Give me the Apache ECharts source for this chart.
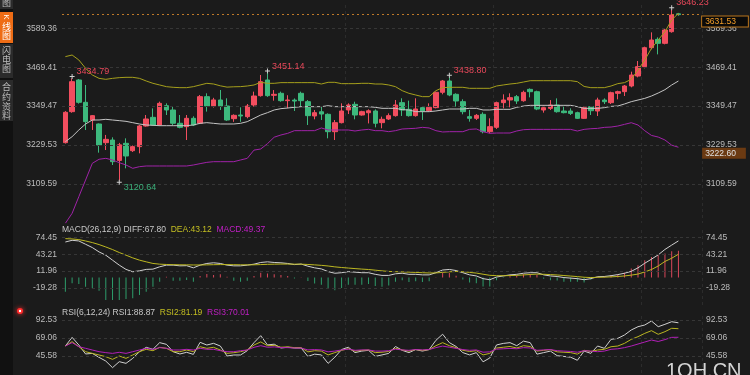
<!DOCTYPE html>
<html><head><meta charset="utf-8">
<script src="https://cdn.jsdelivr.net/npm/echarts@6/dist/echarts.min.js"></script>
<style>html,body{margin:0;padding:0;background:#1b1b1b;}#c{width:750px;height:375px;}</style>
</head><body><div id="c"></div>
<script>
// [open, close, low, high]
const candles = [
[3236.7,3330.3,3234,3334],[3332.3,3424.8,3329,3434.79],[3430.0,3361.1,3357,3433],[3361.1,3301.5,3275.8,3414.5],
[3306.6,3320.0,3275.8,3322],[3294.3,3229.5,3205.9,3296],[3236.7,3247.0,3214,3260.5],[3244.9,3178.1,3167.8,3253.2],
[3182.0,3230.0,3120.64,3236],[3234.7,3195.6,3157.5,3250],[3212.0,3224.5,3208,3228],[3224.5,3288.1,3203.8,3291.2],
[3288.0,3309.7,3286,3322],[3314.8,3291.2,3289,3342.5],[3291.2,3358.0,3288,3363.2],[3350.8,3337.5,3322,3358],
[3337.5,3296.5,3291,3348],[3296.5,3284.0,3281,3322],[3286.1,3311.8,3244.9,3322],[3311.8,3291.2,3288,3318],
[3296.5,3378.6,3294,3383.7],[3378.6,3349.8,3332.5,3388.9],[3350.0,3368.5,3345,3375],[3368.3,3349.8,3337.5,3399.1],
[3349.8,3306.6,3304,3373.5],[3310.7,3321.0,3301,3324],[3322.0,3319.0,3301,3345.7],[3316.9,3349.8,3311.8,3355.9],
[3352.9,3380.6,3347.8,3394],[3381.7,3424.8,3378.6,3445.4],[3430.0,3381.7,3378,3451.14],[3382.7,3385.8,3366.2,3399],
[3388.9,3366.2,3363,3394],[3366.2,3368.3,3342.8,3383],[3368.0,3365.0,3334.4,3373],[3388.9,3366.2,3347.8,3394],
[3363.2,3320.0,3291.2,3368],[3319.0,3329.2,3308.7,3337.5],[3332.0,3325.0,3306.6,3347.8],[3324.1,3270.6,3250.1,3327],
[3270.6,3298.4,3244.9,3306.6],[3298.4,3334.4,3296,3358],[3337.5,3352.9,3325,3358],[3354.9,3322.0,3308.7,3363],
[3322.0,3332.3,3320,3335],[3329.0,3335.0,3296,3339.5],[3334.4,3296.5,3284,3339.5],[3298.4,3308.7,3281,3317],
[3309.7,3320.0,3306.6,3327],[3320.0,3352.9,3317,3368.3],[3360.1,3337.5,3319,3373.5],[3339.5,3320.0,3317,3366.2],
[3320.0,3340.6,3317,3373.5],[3344.7,3334.4,3306.6,3349.8],[3335.4,3345.7,3332.3,3358],[3344.7,3392.0,3342.6,3394],
[3392.0,3426.9,3385.8,3430],[3426.9,3383.7,3380,3438.80],[3385.8,3365.2,3347.8,3388.9],[3363.2,3332.3,3324.1,3370.4],
[3317.0,3311.8,3301.5,3337.5],[3311.8,3321.0,3306.6,3325],[3324.1,3270.6,3265.5,3330.3],[3270.6,3286.1,3265.5,3311.8],
[3284.0,3360.1,3279,3363.2],[3360.1,3368.3,3342.6,3385.8],[3368.3,3375.5,3345.7,3388.9],[3378.6,3365.2,3356,3383.7],
[3366.1,3391.8,3363,3397],[3401.1,3393.9,3376.4,3404],[3393.9,3340.4,3337,3397],[3337.4,3344.6,3329.2,3352.8],
[3342.5,3352.8,3337.4,3368],[3352.8,3332.2,3329.2,3373.3],[3334.3,3329.2,3327,3347.7],[3334.3,3327.0,3322,3342.5],
[3329.2,3311.7,3309.6,3332.2],[3311.7,3344.6,3309.6,3347.7],[3347.7,3335.3,3322,3349.7],[3334.3,3368.2,3318.9,3375.4],
[3368.2,3363.0,3355.9,3373.3],[3360.0,3390.8,3355.9,3393.9],[3388.8,3394.0,3370.3,3397],[3394.0,3411.4,3380.6,3414.5],
[3411.4,3445.3,3407.3,3455.6],[3442.2,3471.0,3438.1,3488.5],[3471.0,3529.6,3465.9,3532.7],[3529.6,3553.2,3524.5,3576.9],
[3555.3,3543.0,3509,3561.5],[3543.0,3584.1,3539.9,3587.2],[3578.9,3630.3,3575.8,3646.23],[3634.0,3631.53,3628,3635.5]
];
const bollUpper = [3502,3507,3491.7,3466,3445.4,3435,3432,3435,3437.2,3438.2,3438.2,3435,3426.9,3419.7,3414.6,3409.4,3407.4,3406.3,3406.3,3409.4,3414.6,3419.7,3417.6,
3412,3408,3409,3409.5,3411.4,3414.6,3422.8,3419.7,3419.7,3421.8,3421.8,3421.8,3421.8,3421.8,3421.8,3417.6,3422.8,3422.8,3418.7,3418.7,3418.7,3419.7,3419.7,
3417.6,3417.6,3414.6,3409.4,3397,3388.9,3383.7,3378.6,3378.6,3397,3406.3,3407.4,3407.4,3407.4,3404.3,3404.3,3404.3,3404.3,3411.4,3414.6,3417.6,3419.7,
3423.7,3427.8,3427.8,3427.8,3427.8,3427.8,3427.8,3427.8,3424.8,3410,3406.3,3406.3,3406.3,3411.4,3418.7,3421.8,3432,3460.7,3491.6,3527.5,3553.2,3578.9,3615,3635.5];
const bollMid = [3239.8,3255.2,3275.8,3294.3,3306.6,3306.6,3308.7,3306.6,3304.6,3302.5,3298.4,3294.3,3291.2,3290.2,3289.1,3289.1,3289.1,3289.1,3289.1,3291.2,3296.3,3298.4,3296.3,
3294.3,3294.3,3294.3,3296.3,3301.5,3311.8,3322,3329.2,3337.5,3341.6,3343.6,3345.7,3347.7,3347.7,3347.7,3347.7,3350.8,3347.7,3347.7,3347.7,3347.7,3347.7,3347.7,
3345.7,3342.6,3342.6,3342.6,3338.5,3337.5,3332.3,3332.3,3332.3,3334.4,3337.5,3340.5,3340.5,3340.5,3342.6,3342.6,3337.5,3337.5,3339.5,3339.5,3339.5,3345.7,
3349.7,3351.8,3351.8,3351.8,3351.8,3351.8,3351.8,3351.8,3347.7,3342.5,3342.5,3342.5,3344.6,3348.7,3349.7,3356,3363.1,3368.2,3373.3,3380.6,3389.8,3400.1,3414.5,3426.8];
const bollLower = [2988,3018.8,3070.2,3121.5,3173,3185.5,3188.4,3183.3,3175,3167.8,3157.6,3162.7,3164.8,3164.8,3164.8,3164.8,3164.8,3164.8,3164.8,3167.8,3172,3176,3178.1,
3178.1,3178.1,3178.1,3183.3,3188.4,3213.8,3217.2,3233.7,3253.6,3260.4,3265.5,3273.7,3273.7,3273.7,3273.7,3282,3275.8,3275.8,3275.8,3275.8,3272.7,3275.8,3277.8,
3273.7,3273.7,3270.6,3273.7,3278.9,3280,3281,3284,3282,3273.7,3269.6,3270.6,3270.6,3270.6,3277.8,3278.9,3270.6,3265.5,3266.5,3266.5,3266.5,3272.7,
3276.7,3277.7,3277.7,3277.7,3277.7,3277.7,3277.7,3277.7,3272.6,3277.7,3279.7,3280.8,3283.9,3284.9,3288,3293.2,3298.3,3291.1,3273.6,3259,3254,3245,3229,3222.6];
const macdDiff = [65.8,68.9,67.7,61.6,55.5,47.4,41.4,32.2,23,15.1,10.7,12.5,15.1,15.6,19.9,23,23,21.7,22,18,23,26.1,27.3,26.1,23,21.7,21.7,23,24.8,27.9,29.1,27.9,27.3,26.1,
24,25,21,18,16,11,8,9,11,10,9,9,6,4,4,7,8,6,6,5,5,9,14,15,13,9,5,3,-2,-4,1,3,5,6,8,9,9,5,3,2,0,-1,-2,-4,-2,
1.5,2,3.5,5.5,8,11.5,18,26.5,34,42,52,60,67.80];
const macdDea = [72,71.4,70.2,67.7,64.7,61,56.6,51.8,46.3,41.4,36.4,32.2,29.1,26.1,24.8,24.2,23.8,23.6,23.5,23.3,23.3,23.5,23.8,24,24,23.8,23.6,23.5,23.6,24,24.5,24.8,25,25,
24.8,24.8,24.2,23.5,22.6,21.4,19.8,18.6,17.6,16.6,15.7,14.9,13.7,12.4,11.4,10.9,10.5,10,9.5,9,8.5,8.6,9.6,10.7,11.2,10.8,9.6,8.3,6.2,4.2,3.5,3.4,3.7,4.1,4.9,5.7,6.4,6.1,5.5,4.8,3.8,2.8,1.8,0.6,0,
0.5,0.8,1.3,2,3,4.5,6.5,10.4,14.9,21.4,29.8,35.7,43.12];
const macdHist = [-26,-10.7,-11.9,-16.8,-19.9,-24.2,-41.3,-41.3,-41.3,-39.5,-38.3,-32.2,-26,-16.8,-7.6,1.5,-5.8,-5.8,-4.6,-7.6,2.8,6.4,4.6,6,1.5,-5.8,-7.6,-5.8,2.8,8.8,7.6,6,4.6,2.8,
-1.6,0.4,-6.4,-11,-13.2,-20.8,-23.6,-19.2,-13.2,-13.2,-13.4,-11.8,-15.4,-16.8,-14.8,-7.8,-5,-8,-7,-8,-7,0.8,8.8,8.6,3.6,-3.6,-9.2,-10.6,-16.4,-16.4,-5,-0.8,2.6,3.8,6.2,6.6,5.2,-2.2,-5,-5.6,-7.6,-7.6,-7.6,-9.2,-4,
1.5,2.8,4.6,5.8,8.8,16.9,23,32.2,38.2,41.3,44.5,48.7,49.37];
const rsi1 = [58.6,69.9,59.9,48.2,49.0,43.8,39.0,30.4,38.2,36.0,42.5,51.2,56.9,54.3,63.0,60.8,51.2,48.2,50.4,47.7,63.4,59.9,62.1,58.6,45.6,46.9,46.9,52.5,63.0,72.1,
60,61,56,57,56,56,45,48,47,36,44,54,57,50,52,53,45,47,49,58,53,50,54,52,54,66,74,63,58,50,47,50,38,43,60,62,63,59,65,63,48,50,52,46,45,44,40,52,49,
58.6,55.6,67.3,68.6,73,79.5,83.8,86,91.2,83.8,86.9,90.3,88.87];
const rsi2 = [58.6,64.3,57.7,51.2,49.0,46.9,44.7,41.2,45.6,42.5,46.9,51.2,54.3,52.5,56.9,55.6,51.2,51.2,53.4,51.2,57.7,55.6,56.9,53.4,49.0,49.9,51.2,53.4,59.9,64,
59,59.5,57,57.5,56.5,56.5,51,52.5,52,47,50,53,55,52,53,53.5,50,50.5,51.5,55.5,53.5,52,54,53,54,59,63,59,56.5,53,51.5,52.5,47,49,56,57,58,56,59,58,52,53,54,51,50.5,50,48,53,51.5,
53.4,54.3,57.7,58.6,62.1,67.3,70.8,75.1,78.6,73.9,77.3,81.7,81.19];
const rsi3 = [58.6,63,57.7,55.6,53.4,51.2,50,49,50.4,49,51.2,53.4,55.6,54.3,56.5,55.6,53.4,53.4,54.3,53.4,55.6,54.3,54.3,52.5,51.2,51.2,52.5,53.4,56.9,59,
57,57.5,56.5,56.5,56,56,53.5,54,53.5,51,52,53.5,54.5,53,53.5,53.5,52,52,52.5,54.5,53.5,53,54,53.5,54,56.5,58.5,57,55.5,54,53,53.5,50.5,51,54.5,55,55.5,55,56.5,56,53,53.5,54,52.5,52,51.5,50.5,52.5,52,
51.2,52,54.3,55,56.5,58.6,61.2,63.8,66.4,64.5,67,69.9,70.01];
const priceTicks = [3109.59, 3229.53, 3349.47, 3469.41, 3589.36];
const macdTicks = [-19.28, 11.96, 43.21, 74.45];
const rsiTicks = [45.58, 69.06, 92.53];
const highMarks = [1, 30, 57, 90];
const lowMarks = [8];
const SLOTS = 95;
const categories = Array.from({length: SLOTS}, (_, i) => 'K' + (i + 1));
const dividers = [42, 64, 86];

const FONT = '"Liberation Sans", Arial, sans-serif';
const CJK = '"Noto Sans CJK SC", sans-serif';
const UP = '#f24e5f', DOWN = '#3db97d';
const CLEAR = 'rgba(0,0,0,0)';
const last = candles[candles.length - 1][1];
const lastLower = bollLower[bollLower.length - 1];
const f2 = v => Number(v).toFixed(2);

function tickLines(ticks) {
  const data = [];
  ticks.forEach(v => {
    data.push({ yAxis: v, label: { position: 'start', distance: 5, formatter: f2(v) } });
    data.push({ yAxis: v, label: { position: 'end', distance: 4, formatter: f2(v) }, lineStyle: { color: CLEAR } });
  });
  return data;
}
const tickLabelStyle = { show: true, color: '#bcbcbc', fontSize: 8.5, fontFamily: FONT, opacity: 1 };
const gridLine = { color: '#363636', type: [3, 3], width: 1 };

const xAx = g => ({
  type: 'category', gridIndex: g, data: categories, boundaryGap: true,
  axisLine: { show: false }, axisTick: { show: false }, axisLabel: { show: false },
  splitLine: { show: true, interval: (i) => dividers.includes(i), lineStyle: { color: '#2c2c2c', type: [3, 3] } }
});
const yAx = (g, min, max) => ({
  type: 'value', gridIndex: g, min, max, scale: true,
  axisLine: { show: false }, axisTick: { show: false }, axisLabel: { show: false }, splitLine: { show: false }
});

const plus = 'path://M2,0H3V2H5V3H3V5H2V3H0V2H2Z';
const markPts = [
  ...highMarks.map(i => ({ coord: [i, candles[i][3]], value: candles[i][3],
    label: { show: true, position: 'right', distance: 2, offset: [0, -5], color: '#e8485a', fontSize: 9, fontFamily: FONT, formatter: f2(candles[i][3]) } })),
  ...lowMarks.map(i => ({ coord: [i, candles[i][2]], value: candles[i][2], symbolOffset: [0, 2],
    label: { show: true, position: 'right', distance: 2, offset: [0, 5], color: '#3bb07a', fontSize: 9, fontFamily: FONT, formatter: f2(candles[i][2]) } })),
  { coord: [SLOTS - 1, lastLower], symbol: 'rect', symbolSize: 1, symbolOffset: [0, 0], itemStyle: { color: CLEAR },
    label: { show: true, position: 'right', distance: 3, offset: [0, 6], formatter: f2(lastLower), color: '#e0e0e0', fontSize: 8.5, fontFamily: FONT, opacity: 1,
      backgroundColor: '#6b3a12', padding: [1, 10, 1, 3] } },
  { coord: [SLOTS - 1, last], symbol: 'rect', symbolSize: 1, symbolOffset: [0, 0], itemStyle: { color: CLEAR },
    label: { show: true, position: 'right', distance: 3, offset: [0, 7], formatter: f2(last), color: '#f5a02a', fontSize: 8.5, fontFamily: FONT, opacity: 1,
      backgroundColor: '#0a0a0a', borderColor: '#b8741c', borderWidth: 1, padding: [1, 12, 0, 3] } }
];

const lineS = (name, data, color, xi, yi, extra) => Object.assign({
  name, type: 'line', data, xAxisIndex: xi, yAxisIndex: yi, symbol: 'none', silent: true,
  lineStyle: { color, width: 1 }, z: 3
}, extra || {});

const LEG = '8.5px ' + FONT;
const option = {
  backgroundColor: '#1b1b1b',
  animation: false,
  grid: [
    { left: 62, right: 48, top: 5, height: 218 },
    { left: 62, right: 48, top: 230, height: 78 },
    { left: 62, right: 48, top: 316, height: 59 }
  ],
  xAxis: [xAx(0), xAx(1), xAx(2)],
  yAxis: [yAx(0, 2989.0, 3661.2), yAx(1, -56.25, 87.95), yAx(2, 20.81, 97.75)],
  series: [
    {
      type: 'candlestick', data: candles, xAxisIndex: 0, yAxisIndex: 0, barWidth: 5, silent: true,
      itemStyle: { color: UP, color0: DOWN, borderColor: UP, borderColor0: DOWN, borderWidth: 1 },
      markLine: {
        silent: true, symbol: 'none', lineStyle: gridLine, label: tickLabelStyle,
        data: [...tickLines(priceTicks),
          { yAxis: last, lineStyle: { color: '#c07a28', type: [2, 3], width: 1 }, label: { show: false } }]
      },
      markPoint: { symbol: plus, symbolSize: 5, symbolOffset: [0, -2], silent: true, z: 10, itemStyle: { color: '#d0d0d0' }, data: markPts }
    },
    lineS('UP', bollUpper, '#a59f1c', 0, 0),
    lineS('MID', bollMid, '#c4c4c4', 0, 0),
    lineS('LOW', bollLower, '#a023a8', 0, 0),
    {
      type: 'bar', data: macdHist.map(v => ({ value: v, itemStyle: { color: v >= 0 ? '#d9475a' : '#2e9d6b' } })),
      xAxisIndex: 1, yAxisIndex: 1, barWidth: 1, silent: true
    },
    lineS('DIFF', macdDiff, '#d0d0d0', 1, 1, {
      markLine: { silent: true, symbol: 'none', lineStyle: gridLine, label: tickLabelStyle, data: tickLines(macdTicks) }
    }),
    lineS('DEA', macdDea, '#bdb821', 1, 1),
    lineS('RSI1', rsi1, '#d0d0d0', 2, 2, {
      markLine: { silent: true, symbol: 'none', lineStyle: gridLine, label: tickLabelStyle, data: tickLines(rsiTicks) }
    }),
    lineS('RSI2', rsi2, '#bab521', 2, 2),
    lineS('RSI3', rsi3, '#b21fb8', 2, 2)
  ],
  graphic: [
    { type: 'rect', shape: { x: 0, y: 0, width: 13, height: 375 }, style: { fill: '#111111' } },
    { type: 'rect', shape: { x: 0, y: 0, width: 13, height: 9 }, style: { fill: '#2b2b2b' } },
    { type: 'rect', shape: { x: 0, y: 12, width: 13, height: 31 }, style: { fill: '#ee6c15' } },
    { type: 'rect', shape: { x: 0, y: 44, width: 13, height: 34 }, style: { fill: '#2b2b2b' } },
    { type: 'rect', shape: { x: 0, y: 80, width: 13, height: 41 }, style: { fill: '#2b2b2b' } },
    { type: 'text', x: 6.5, y: 3, style: { text: '图', fill: '#bbbbbb', font: '9px ' + CJK, align: 'center', verticalAlign: 'middle' } },
    { type: 'text', x: 6.5, y: 17, rotation: -Math.PI / 2, style: { text: 'K', fill: '#ffffff', font: '8px ' + FONT, align: 'center', verticalAlign: 'middle' } },
    { type: 'text', x: 6.5, y: 27, style: { text: '线', fill: '#ffffff', font: '9px ' + CJK, align: 'center', verticalAlign: 'middle' } },
    { type: 'text', x: 6.5, y: 36, style: { text: '图', fill: '#ffffff', font: '9px ' + CJK, align: 'center', verticalAlign: 'middle' } },
    { type: 'text', x: 6.5, y: 51, style: { text: '闪', fill: '#bbbbbb', font: '9px ' + CJK, align: 'center', verticalAlign: 'middle' } },
    { type: 'text', x: 6.5, y: 60, style: { text: '电', fill: '#bbbbbb', font: '9px ' + CJK, align: 'center', verticalAlign: 'middle' } },
    { type: 'text', x: 6.5, y: 69, style: { text: '图', fill: '#bbbbbb', font: '9px ' + CJK, align: 'center', verticalAlign: 'middle' } },
    { type: 'text', x: 6.5, y: 87, style: { text: '合', fill: '#bbbbbb', font: '9px ' + CJK, align: 'center', verticalAlign: 'middle' } },
    { type: 'text', x: 6.5, y: 97, style: { text: '约', fill: '#bbbbbb', font: '9px ' + CJK, align: 'center', verticalAlign: 'middle' } },
    { type: 'text', x: 6.5, y: 107, style: { text: '资', fill: '#bbbbbb', font: '9px ' + CJK, align: 'center', verticalAlign: 'middle' } },
    { type: 'text', x: 6.5, y: 116, style: { text: '料', fill: '#bbbbbb', font: '9px ' + CJK, align: 'center', verticalAlign: 'middle' } },
    { type: 'circle', shape: { cx: 20, cy: 311, r: 3 }, style: { fill: '#ff2a2a', shadowBlur: 5, shadowColor: '#ff3030' } },
    { type: 'circle', shape: { cx: 20, cy: 311, r: 1.2 }, style: { fill: '#ffffff' } },
    { type: 'text', x: 62, y: 229.5, style: {
        text: '{w|MACD(26,12,9) DIFF:' + f2(macdDiff[macdDiff.length - 1]) + '}  {y|DEA:' + f2(macdDea[macdDea.length - 1]) + '}  {m|MACD:' + f2(macdHist[macdHist.length - 1]) + '}',
        verticalAlign: 'middle', font: LEG,
        rich: { w: { fill: '#c8c8c8', font: LEG }, y: { fill: '#c4bf22', font: LEG }, m: { fill: '#c21fc6', font: LEG } } } },
    { type: 'text', x: 62, y: 312.5, style: {
        text: '{w|RSI(6,12,24) RSI1:' + f2(rsi1[rsi1.length - 1]) + '}  {y|RSI2:' + f2(rsi2[rsi2.length - 1]) + '}  {m|RSI3:' + f2(rsi3[rsi3.length - 1]) + '}',
        verticalAlign: 'middle', font: LEG,
        rich: { w: { fill: '#c8c8c8', font: LEG }, y: { fill: '#c4bf22', font: LEG }, m: { fill: '#c21fc6', font: LEG } } } },
    { type: 'text', x: 666, y: 361, style: { text: '1QH.CN', fill: '#d5d5d5', font: '20px ' + FONT } }
  ]
};
const chart = echarts.init(document.getElementById('c'), null, { renderer: 'canvas' });
chart.setOption(option);
</script>
</body></html>
